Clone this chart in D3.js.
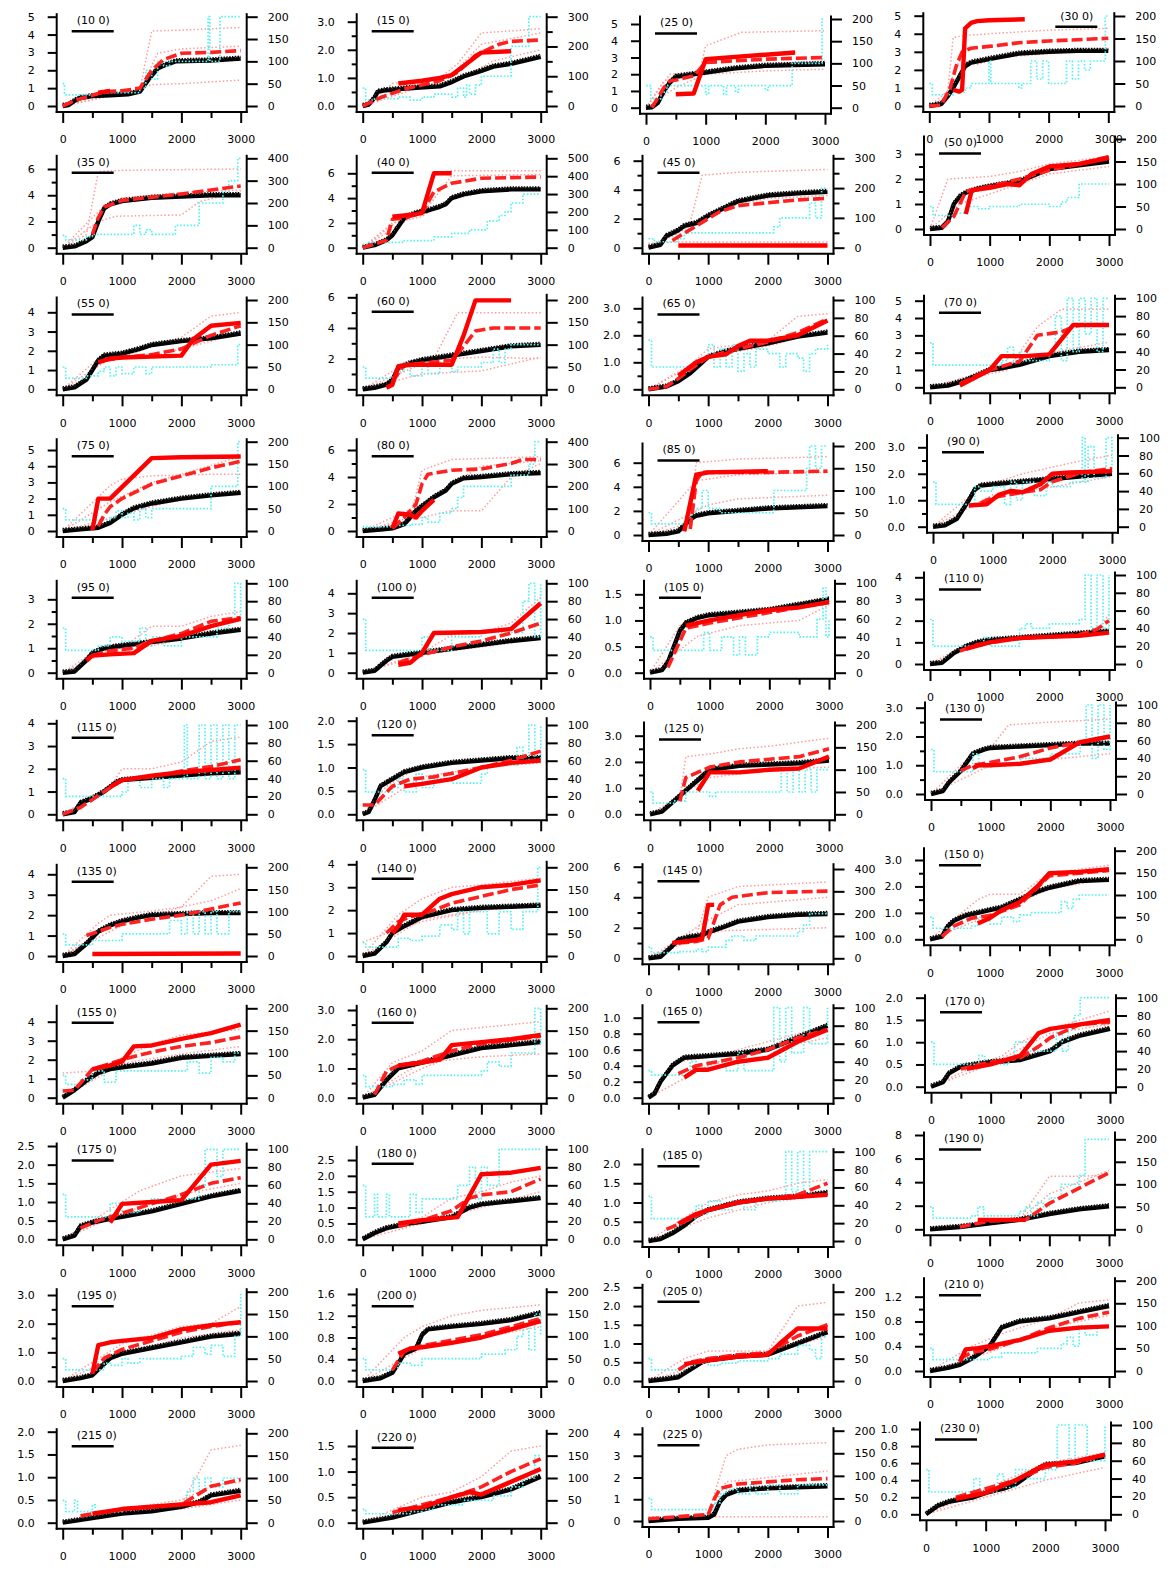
<!DOCTYPE html>
<html><head><meta charset="utf-8">
<script src="https://cdn.jsdelivr.net/npm/d3@7"></script>
<style>
body{margin:0;background:#fff}
svg{display:block}
text{font-family:"DejaVu Sans",sans-serif;font-size:11px;fill:#000}
</style>
</head><body>
<svg id="c" width="1175" height="1586"></svg>
<script>
// ---------------- DATA ----------------
const titles = ["(10 0)","(15 0)","(25 0)","(30 0)","(35 0)","(40 0)","(45 0)","(50 0)","(55 0)","(60 0)","(65 0)","(70 0)",
"(75 0)","(80 0)","(85 0)","(90 0)","(95 0)","(100 0)","(105 0)","(110 0)","(115 0)","(120 0)","(125 0)","(130 0)",
"(135 0)","(140 0)","(145 0)","(150 0)","(155 0)","(160 0)","(165 0)","(170 0)","(175 0)","(180 0)","(185 0)","(190 0)",
"(195 0)","(200 0)","(205 0)","(210 0)","(215 0)","(220 0)","(225 0)","(230 0)"];
const xTicks = [0,1000,2000,3000];
const xMinorTicks = [500,1500,2500];
const leftMax  = [5,3,5,5, 6,6,6,3, 4,6,3,5, 5,6,6,3, 3,4,1.5,4, 4,2,3,3, 4,4,6,3, 4,3,1,2, 2.5,2.5,2,8, 3,1.6,2.5,1.2, 2,1.5,4,1];
const leftStep = [1,1,1,1, 2,2,2,1, 1,2,1,1, 1,2,2,1, 1,1,0.5,1, 1,0.5,1,1, 1,1,2,1, 1,1,0.2,0.5, 0.5,0.5,0.5,2, 1,0.4,0.5,0.4, 0.5,0.5,1,0.2];
const leftDec  = [0,1,0,0, 0,0,0,0, 0,0,1,0, 0,0,0,1, 0,0,1,0, 0,1,1,1, 0,0,0,1, 0,1,1,1, 1,1,1,0, 1,1,1,1, 1,1,0,1];
const rightMax = [200,300,200,200, 400,500,300,200, 200,200,100,100, 200,400,200,100, 100,100,100,100, 100,100,200,100,
                  200,200,400,200, 200,200,100,100, 100,100,100,200, 200,200,200,200, 200,200,200,100];
const rightStep= [50,100,50,50, 100,100,100,50, 50,50,20,20, 50,100,50,20, 20,20,20,20, 20,20,50,20,
                  50,50,100,50, 50,50,20,20, 20,20,20,50, 50,50,50,50, 50,50,50,20];

// black (solid + dotted) series, flat [x,y,...]
const blackData = [
[0,0,100,0.05,200,0.3,300,0.45,500,0.55,800,0.6,1100,0.65,1300,0.8,1450,1.5,1600,2.1,1700,2.25,1900,2.5,2500,2.55,3000,2.65],
[0,0,100,0.05,200,0.3,250,0.5,350,0.55,600,0.6,900,0.65,1300,0.7,1500,0.85,1700,1.05,2000,1.25,2200,1.4,2500,1.5,3000,1.75],
[0,0,100,0.02,200,0.3,300,1.0,400,1.5,500,1.85,700,1.95,1000,2.1,1500,2.35,2000,2.5,2500,2.55,3000,2.6],
[0,0,200,0.1,300,0.5,400,1.0,500,1.6,600,2.2,700,2.4,1000,2.6,1500,2.9,2000,3.0,2500,3.05,3000,3.05],
[0,0,200,0.1,400,0.5,500,0.8,600,2.0,700,3.0,800,3.3,1000,3.55,1500,3.8,2000,3.9,2500,4.0,3000,4.0],
[0,0,200,0.2,400,0.6,500,1.0,700,2.4,900,2.8,1100,3.0,1300,3.3,1400,3.5,1500,4.0,1700,4.3,2000,4.55,2500,4.7,3000,4.7],
[0,0,200,0.2,300,0.8,400,1.0,500,1.2,600,1.5,700,1.6,800,1.7,1000,2.2,1200,2.6,1500,3.2,2000,3.6,2500,3.75,3000,3.85],
[0,0,200,0.05,300,0.3,400,1.0,500,1.3,600,1.45,800,1.6,1000,1.7,1500,1.9,2000,2.4,2500,2.55,3000,2.7],
[0,0,200,0.1,400,0.5,500,1.0,600,1.5,700,1.75,1000,1.85,1300,2.1,1500,2.3,2000,2.5,2500,2.65,3000,2.9],
[0,0,200,0.1,400,0.3,500,0.6,600,1.4,800,1.7,1000,1.9,1500,2.2,2000,2.5,2500,2.8,3000,2.9],
[0,0,300,0.1,500,0.3,700,0.6,900,1.0,1000,1.2,1300,1.4,1500,1.5,2000,1.7,2500,1.95,3000,2.1],
[0,0,300,0.1,600,0.4,800,0.7,1000,1.0,1200,1.1,1500,1.3,1800,1.6,2000,1.8,2500,2.05,3000,2.15],
[0,0,300,0.1,600,0.2,800,0.5,1000,1.0,1200,1.4,1500,1.7,2000,2.0,2500,2.2,3000,2.35],
[0,0,300,0.1,500,0.2,700,0.5,900,1.5,1200,2.5,1400,3.0,1500,3.5,1700,3.9,2000,4.0,2500,4.2,3000,4.3],
[0,0,300,0.1,500,0.3,600,0.8,700,1.3,800,1.6,1000,1.8,1500,2.0,2000,2.2,2500,2.3,3000,2.4],
[0,0,200,0.05,400,0.3,600,1.0,700,1.4,800,1.55,1000,1.6,1500,1.7,2000,1.8,2500,1.9,3000,2.0],
[0,0,200,0.05,400,0.5,500,0.8,700,1.0,1000,1.1,1500,1.25,2000,1.4,2500,1.6,3000,1.75],
[0,0,200,0.1,400,0.6,500,0.8,1000,1.0,1500,1.2,2000,1.4,2500,1.6,3000,1.75],
[0,0,200,0.05,300,0.2,400,0.5,500,0.8,600,0.95,800,1.05,1000,1.1,1500,1.15,2000,1.2,2500,1.3,3000,1.4],
[0,0,200,0.05,400,0.5,600,0.8,800,1.0,1000,1.1,1500,1.2,2000,1.3,2500,1.4,3000,1.5],
[0,0,200,0.1,300,0.5,400,0.6,500,0.7,700,1.0,900,1.4,1000,1.5,1500,1.6,2000,1.7,2500,1.8,3000,1.85],
[0,0,100,0.05,200,0.3,300,0.6,500,0.75,700,0.9,1000,1.0,1500,1.1,2000,1.15,2500,1.2,3000,1.2],
[0,0,200,0.1,400,0.5,600,0.9,800,1.3,1000,1.7,1500,1.85,2000,1.9,2500,1.95,3000,2.05],
[0,0,200,0.1,300,0.4,500,0.8,700,1.4,900,1.55,1000,1.6,1500,1.65,2000,1.7,2500,1.75,3000,1.75],
[0,0,200,0.1,400,0.6,600,1.2,800,1.5,1000,1.7,1300,1.9,1500,2.0,2000,2.05,2500,2.1,3000,2.1],
[0,0,200,0.1,400,0.6,500,1.0,700,1.3,1000,1.7,1500,2.0,2000,2.1,2500,2.15,3000,2.2],
[0,0,200,0.1,400,0.8,500,1.2,700,1.4,900,1.5,1000,1.7,1300,2.1,1500,2.4,2000,2.7,2500,2.85,3000,2.9],
[0,0,200,0.1,300,0.5,400,0.7,600,0.9,800,1.0,1000,1.1,1200,1.2,1500,1.5,1800,1.8,2000,1.95,2500,2.2,3000,2.25],
[0,0,200,0.4,400,0.9,600,1.3,800,1.5,1000,1.6,1500,1.8,2000,2.1,2500,2.2,3000,2.3],
[0,0,200,0.1,400,0.6,600,1.0,1000,1.2,1500,1.45,2000,1.7,2500,1.8,3000,1.9],
[0,0,100,0.05,200,0.2,400,0.4,600,0.5,1000,0.52,1500,0.55,2000,0.6,2500,0.75,3000,0.9],
[0,0,200,0.1,300,0.3,500,0.45,1000,0.55,1500,0.6,2000,0.8,2200,1.0,2500,1.15,3000,1.3],
[0,0,200,0.1,300,0.35,500,0.45,800,0.55,1000,0.6,1500,0.75,2000,0.95,2500,1.15,3000,1.3],
[0,0,200,0.2,400,0.35,800,0.5,1000,0.55,1500,0.7,1800,1.0,2000,1.1,2500,1.2,3000,1.3],
[0,0,200,0.05,400,0.2,600,0.4,800,0.65,1000,0.8,1500,1.0,2000,1.1,2500,1.15,3000,1.25],
[0,0,500,0.2,1000,0.5,1500,0.8,2000,1.3,2500,1.7,3000,1.95],
[0,0,300,0.1,500,0.2,700,0.6,800,0.8,1000,0.95,1500,1.15,2000,1.35,2500,1.55,3000,1.65],
[0,0,300,0.05,500,0.15,700,0.5,900,0.6,1000,0.85,1100,0.95,1500,1.0,2000,1.05,2500,1.12,3000,1.25],
[0,0,300,0.05,500,0.1,700,0.3,900,0.5,1000,0.55,1500,0.65,2000,0.7,2500,1.0,3000,1.3],
[0,0,300,0.05,500,0.1,700,0.2,1000,0.4,1200,0.7,1500,0.8,2000,0.85,2500,0.95,3000,1.05],
[0,0,500,0.1,1000,0.2,1500,0.25,2000,0.35,2300,0.45,2500,0.6,3000,0.7],
[0,0,500,0.1,1000,0.25,1500,0.4,2000,0.5,2500,0.65,3000,0.9],
[0,0,500,0.1,1000,0.15,1100,0.3,1200,0.9,1300,1.2,1500,1.4,2000,1.5,2500,1.55,3000,1.6],
[0,0,200,0.1,400,0.15,800,0.2,1000,0.25,1300,0.3,1500,0.35,1800,0.5,2000,0.58,2500,0.6,3000,0.68]
];

// red solid series
const redSolidData = [
[600,0.75,800,0.85],
[600,0.8,1000,0.9,1300,1.0,1500,1.1,2000,1.9,2500,1.95],
[500,0.8,800,0.85,1000,2.9,2500,3.3],
[400,0.9,500,0.8,550,0.9,600,4.3,700,4.6,800,4.7,1000,4.75,1600,4.8],
[],
[500,2.5,900,2.7,1000,2.8,1200,6.0,1500,6.0],
[500,0.15,3000,0.15],
[600,0.6,700,1.55,1000,1.65,1300,1.8,1500,1.75,1700,2.2,2000,2.5,2500,2.6,3000,2.85],
[600,1.4,800,1.6,1000,1.65,1500,1.7,2000,1.75,2200,2.6,2500,3.3,3000,3.45],
[400,0.1,500,0.3,600,1.5,800,1.6,1000,1.6,1500,1.6,1700,3.5,1900,5.8,2500,5.8],
[500,0.5,800,1.0,1000,1.2,1300,1.3,1500,1.6,1700,1.8,2000,1.8,2500,2.0,3000,2.55],
[500,0.1,1000,1.0,1200,1.8,1600,1.8,2000,1.9,2400,3.6,3000,3.6],
[500,0.05,600,2.0,800,2.0,1500,4.5,2000,4.55,3000,4.6],
[500,0.2,600,1.3,800,1.2,900,1.0,1000,1.5,1200,2.3],
[600,0.3,800,5.0,1000,5.2,2000,5.3],
[600,0.8,900,0.85,1100,1.2,1300,1.35,1500,1.3,1800,1.6,2000,2.0,2300,2.05,3000,2.1],
[400,0.5,500,0.7,800,0.75,1200,0.8,1500,1.3,2000,1.5,2500,1.9,3000,2.2],
[600,0.4,800,0.5,1000,1.0,1200,2.0,2000,2.05,2500,2.2,3000,3.5],
[600,0.9,1000,1.0,1500,1.1,2000,1.2,2500,1.25,3000,1.35],
[600,0.7,1000,1.0,1500,1.2,2000,1.25,2500,1.3,3000,1.45],
[800,1.2,1000,1.5,1500,1.7,2000,1.85,2500,1.95,3000,2.05],
[700,0.6,1000,0.65,1500,0.75,1800,0.9,2000,1.0,2500,1.1,3000,1.15],
[800,0.9,1000,1.6,1500,1.6,2000,1.7,2500,1.75,3000,2.2],
[700,0.9,800,1.0,1000,1.0,1500,1.05,2000,1.2,2500,1.8,3000,2.0],
[500,0.1,3000,0.12],
[500,1.0,600,1.3,700,1.8,1000,1.8,1300,2.5,1500,2.7,2000,3.0,2500,3.1,3000,3.3],
[400,1.0,800,1.2,900,1.3,1000,3.5,1100,3.5],
[800,0.6,1000,0.8,1200,1.1,1500,1.4,1800,2.0,2000,2.5,2500,2.55,3000,2.65],
[500,1.5,800,1.7,1000,1.9,1200,2.7,1500,2.75,2000,3.1,2500,3.4,3000,3.85],
[600,1.1,1000,1.2,1300,1.3,1500,1.8,2000,1.9,2500,2.0,3000,2.15],
[600,0.25,800,0.35,1000,0.35,1500,0.45,2000,0.5,2500,0.7,3000,0.85],
[600,0.4,1000,0.5,1500,0.7,1800,1.2,2000,1.3,2500,1.4,3000,1.5],
[800,0.45,1000,0.95,1500,1.0,2000,1.05,2500,2.0,3000,2.1],
[600,0.5,1000,0.6,1600,0.7,2000,2.05,2500,2.1,3000,2.25],
[500,0.45,800,0.7,1000,0.8,1500,1.0,2000,1.1,2500,1.15,3000,1.2],
[800,0.8,1200,0.8,1600,0.8],
[500,0.25,600,1.25,800,1.35,1000,1.4,1500,1.5,2000,1.8,2500,1.95,3000,2.05],
[600,0.5,800,0.6,1000,0.62,1500,0.7,2000,0.8,2500,0.95,3000,1.1],
[600,0.45,1000,0.55,1500,0.65,2000,0.7,2200,1.0,2500,1.4,3000,1.4],
[500,0.15,600,0.35,800,0.37,1000,0.4,1500,0.5,2000,0.65,2500,0.7,3000,0.72],
[500,0.2,1000,0.3,1500,0.35,2000,0.4,2500,0.45,3000,0.6],
[600,0.25,1000,0.3,1500,0.5,1800,0.6,2000,0.55,2500,0.8,3000,1.05],
[],
[500,0.18,1000,0.25,1500,0.4,2000,0.58,2500,0.62,3000,0.7]
];

// red dashed series
const redDashData = [
[0,0,200,0.3,500,0.6,700,0.8,1000,0.85,1300,1.0,1500,2.0,1700,2.6,2000,2.95,2500,3.0,3000,3.1],
[0,0,300,0.3,700,0.6,1300,0.9,1600,1.2,1900,1.8,2300,2.2,2500,2.3,3000,2.35],
[100,0,300,1.2,400,1.6,500,1.65,800,1.9,1000,2.7,2000,2.9,3000,3.0],
[0,0,200,0.05,350,1.0,450,2.2,550,3.0,700,3.2,1000,3.3,1500,3.5,2000,3.6,3000,3.75],
[500,1.0,600,2.3,700,3.1,1000,3.6,2000,4.1,3000,4.7],
[0,0,400,0.6,500,2.3,700,2.4,1000,2.8,1200,4.5,1500,5.2,2000,5.6,3000,5.7],
[400,0.5,600,1.0,800,1.5,1000,2.0,1200,2.5,1500,2.9,2000,3.1,2500,3.3,3000,3.4],
[200,0.05,400,0.5,600,1.5,1000,1.7,1500,2.0,2000,2.35,2500,2.6,3000,2.9],
[700,1.5,1000,1.65,1500,1.8,2000,2.1,2500,2.8,3000,3.3],
[500,0.5,700,1.6,1000,1.7,1500,1.9,1700,2.8,1900,3.8,2200,4.0,3000,4.0],
[0,0,300,0.1,500,0.4,800,0.9,1000,1.2,1500,1.5,2000,1.75,2500,2.1,3000,2.6],
[500,0.2,800,0.7,1000,1.0,1200,1.2,1500,1.5,1800,3.0,2000,3.1,2200,3.2,2500,3.6,3000,3.6],
[600,0.3,700,1.0,800,1.5,1000,2.0,1500,2.9,2000,3.4,2500,3.9,3000,4.3],
[500,0.2,700,1.0,900,2.0,1000,3.5,1100,4.2,1500,4.5,2000,4.6,2500,5.0,2700,5.3,3000,5.3],
[700,0.5,800,4.5,900,5.2,1500,5.2,2000,5.2,3000,5.3],
[800,0.9,1000,1.1,1500,1.3,1800,1.4,2000,1.7,2500,2.05,3000,2.2],
[500,0.7,800,0.9,1200,1.0,1500,1.3,2000,1.6,2500,2.1,3000,2.25],
[600,0.5,1000,0.9,1500,1.3,2000,1.6,2500,2.0,3000,2.5],
[300,0.1,600,0.85,1000,0.95,2000,1.15,3000,1.35],
[500,0.6,800,0.9,1500,1.2,2000,1.25,2500,1.35,2800,1.6,3000,2.0],
[0,0,300,0.3,700,1.0,1000,1.5,1500,1.65,2000,1.9,2500,2.1,3000,2.4],
[0,0.2,200,0.2,500,0.6,800,0.75,1200,0.8,1600,0.9,2000,1.0,2500,1.15,3000,1.35],
[500,0.5,600,1.4,1000,1.8,1500,2.0,2000,2.1,2500,2.2,3000,2.5],
[500,0.8,700,1.0,1000,1.1,1500,1.3,2000,1.6,2500,1.8,3000,2.0],
[400,1.0,600,1.2,800,1.4,1000,1.55,1500,1.8,2000,2.0,2500,2.3,3000,2.6],
[400,1.0,600,1.5,800,1.7,1200,2.0,1500,2.3,2000,2.6,2500,2.9,3000,3.1],
[500,1.0,800,1.1,1000,1.3,1200,3.5,1400,4.0,2000,4.3,3000,4.4],
[200,0.1,400,0.5,700,0.8,1000,0.9,1500,1.3,2000,2.4,2500,2.5,3000,2.6],
[0,0.35,200,0.4,500,1.5,1000,2.0,1500,2.4,2000,2.7,2500,2.9,3000,3.2],
[200,0.1,400,0.9,600,1.1,1000,1.25,1500,1.6,2000,1.85,3000,2.1],
[500,0.3,800,0.4,1500,0.5,2000,0.6,2500,0.75,3000,0.85],
[500,0.4,1000,0.55,1500,0.65,1800,0.9,2000,1.1,2500,1.4,3000,1.45],
[300,0.3,600,0.5,1000,0.7,1500,0.95,2000,1.2,2500,1.5,3000,1.65],
[600,0.4,1000,0.6,1500,0.9,1800,1.3,2000,1.4,2500,1.5,3000,1.9],
[300,0.3,600,0.5,1000,0.8,1500,1.0,2000,1.1,2500,1.2,3000,1.5],
[500,0.2,1000,0.7,1600,0.8,2000,2.2,2500,3.5,3000,4.8],
[500,0.3,700,0.8,1000,1.1,1500,1.4,2000,1.7,2500,1.9,3000,2.05],
[500,0.2,700,0.55,1000,0.65,1500,0.75,2000,0.85,2500,1.0,3000,1.15],
[500,0.3,700,0.5,1000,0.6,1500,0.7,2000,0.75,2500,1.2,3000,1.5],
[500,0.2,700,0.3,1000,0.35,1500,0.5,2000,0.7,2500,0.85,3000,0.95],
[300,0.15,1000,0.3,2000,0.4,2500,0.8,3000,0.95],
[500,0.2,1000,0.35,1500,0.5,2000,0.7,2500,1.0,3000,1.25],
[0,0.1,500,0.2,1000,0.3,1100,1.0,1200,1.5,1500,1.7,2000,1.8,2500,1.9,3000,1.95],
[500,0.2,1000,0.3,1500,0.4,2000,0.55,2500,0.6,3000,0.7]
];

// light red dotted series (several per panel)
const pinkData = [
[[0,0,500,0.6,1300,0.9,1500,4.2,2000,4.25,3000,4.4],[0,0,1300,0.9,1600,2.95,2000,3.2,3000,3.35],[0,0,1300,0.95,1500,1.2,2000,1.25,3000,1.45]],
[[0,0,500,0.8,1300,1.0,1600,1.5,2000,2.6,3000,2.75],[0,0,700,0.7,1500,1.1,2000,2.2,3000,2.6],[0,0,800,0.55,1500,0.8,2200,1.6,3000,2.0]],
[[0,0,300,1.6,500,1.8,900,2.2,1000,3.7,1600,4.5,3000,4.6],[0,0,400,2.0,1000,2.2,2000,2.6,3000,2.8],[0,0,500,1.2,1000,2.0,2000,2.2,3000,2.3]],
[[0,0,300,0.5,400,3.8,600,3.9,1000,4.0,2000,4.2,3000,4.3],[0,0,300,0.8,500,2.5,800,2.3,1200,2.7,2000,2.9,3000,3.2]],
[[0,0,400,1.0,600,5.8,1000,5.9,3000,6.0],[0,0,600,2.0,900,2.4,2000,2.5,2300,3.5,3000,4.3],[0,0,700,3.2,1000,3.8,2000,4.2,3000,4.4]],
[[0,0,1000,3.0,1200,6.0,1500,6.2,3000,6.2],[0,0,500,2.0,1000,2.5,1300,3.5,1600,4.0,2000,4.5,3000,4.8],[0,0,600,2.2,1100,3.3,1500,5.8,3000,5.9]],
[[0,0,700,1.8,900,5.0,1500,5.2,3000,5.4],[0,0,500,1.0,1000,2.3,1500,3.0,2000,3.4,3000,3.6],[0,0.3,500,0.4,3000,0.4]],
[[0,0,300,2.0,1000,2.1,1500,2.3,2000,2.6,3000,2.9],[0,0,500,1.0,1000,1.4,2000,2.2,3000,2.5]],
[[0,0,600,1.6,1000,1.7,2000,2.7,2500,3.8,3000,4.0],[0,0,800,1.6,1500,1.7,2500,2.5,3000,3.0]],
[[0,0,1200,2.0,1600,5.0,2000,5.0,3000,5.0],[0,0,600,1.4,1000,1.9,1500,2.0,2000,2.1,3000,2.0],[0,0,1000,1.0,2000,1.2,3000,2.1]],
[[0,0,700,0.9,1000,1.5,2000,1.8,2500,2.7,3000,2.8],[0,0,1000,1.2,2000,1.6,3000,2.2]],
[[0,0,1300,1.0,1800,3.5,2200,4.5,3000,4.5],[0,0,1500,1.5,2000,2.0,3000,2.6]],
[[0,0,800,2.8,1000,3.2,1500,3.4,2500,3.5,3000,3.5],[0,0,800,1.8,1500,3.0,2000,3.5,3000,4.6],[0,0,1200,1.2,2000,2.0,3000,2.4]],
[[0,0,800,1.0,1000,4.5,1500,5.3,3000,5.5],[0,0,1000,2.0,1500,3.5,2000,4.8,3000,5.2],[0,0,1000,1.0,1500,1.5,2000,1.5,2500,4.0,3000,5.0]],
[[0,0,700,1.0,800,6.0,1500,6.3,3000,6.5],[0,0,800,2.0,1000,2.5,1500,3.0,3000,3.3],[0,0,800,4.5,1500,5.0,3000,5.2]],
[[0,0,800,1.5,1500,2.0,2500,2.5,3000,2.7],[0,0,1000,1.2,2000,1.5,3000,1.9]],
[[0,0,500,0.8,1000,1.0,1500,1.9,2000,1.9,2500,2.3,3000,2.5],[0,0,700,0.8,1500,1.1,2500,1.6,3000,1.8]],
[[0,0,1000,1.0,1500,1.9,2000,2.0,2500,2.5,3000,3.8],[0,0,1000,0.9,1500,1.1,2500,1.5,3000,1.8]],
[[0,0,500,0.9,1000,1.1,2000,1.2,3000,1.4],[0,0,800,0.7,1500,0.9,2500,1.0,3000,1.3]],
[[0,0,600,0.9,1000,1.0,2000,1.3,2800,1.5,3000,2.3],[0,0,1000,1.1,3000,1.4]],
[[0,0,800,1.2,1000,2.0,1500,2.0,2000,2.3,2500,3.2,3000,3.4],[0,0,1000,1.5,2000,1.7,3000,1.9]],
[[0,0,400,0.6,800,0.9,1000,1.0,1500,1.1,2000,1.15,3000,1.3],[0,0,1000,0.8,2000,1.0,3000,1.1]],
[[0,0,500,0.6,600,2.2,1000,2.3,1500,2.5,2000,2.6,3000,2.9],[0,0,1000,1.4,2000,1.7,3000,1.8]],
[[0,0,700,1.4,1000,1.6,1300,2.4,2000,2.5,3000,2.6],[0,0,1000,1.0,2000,1.2,3000,1.4]],
[[0,0,600,1.6,800,2.0,1500,2.2,2000,2.4,2500,3.9,3000,4.0],[0,0,1000,1.5,2000,2.4,2500,2.7,3000,3.3],[0,0,1000,1.8,2000,2.0,3000,2.2]],
[[0,0,600,1.8,1000,2.5,1500,3.0,2000,3.1,3000,3.4],[0,0,1000,1.6,2000,2.0,3000,2.2],[0,0.6,400,1.0,1000,1.5,2000,2.0,3000,2.3]],
[[0,0,800,1.5,1000,4.0,1500,4.7,3000,5.0],[0,0,1000,2.5,1500,3.5,3000,4.0],[0,0,600,1.0,1200,1.8,3000,2.0]],
[[0,0,800,1.5,1000,1.7,1500,1.7,2000,2.5,3000,2.8],[0,0,1000,0.9,2000,1.9,3000,2.3]],
[[0,0,500,1.3,1000,2.1,1500,2.8,2000,3.3,3000,3.6],[0,1.3,500,1.4,1000,1.5,2000,2.0,3000,2.4],[0,0,1000,1.8,2000,2.3,3000,2.7]],
[[0,0,500,1.2,1000,1.6,1500,2.3,2000,2.4,3000,2.6],[0,0,1000,1.2,2000,1.4,3000,1.5],[0,0,1000,1.0,2000,1.8,3000,2.0]],
[[0,0,500,0.45,1000,0.5,2000,0.7,3000,0.9],[0,0,1000,0.4,2000,0.6,3000,0.75]],
[[0,0,800,0.5,1200,0.7,1500,1.0,2000,1.3,2500,1.5,3000,1.7],[0,0,1000,0.5,2000,1.2,3000,1.4]],
[[0,0,800,0.8,1300,1.3,2000,1.7,3000,1.9],[0,0,1000,0.7,2000,1.2,3000,1.5]],
[[0,0,1000,0.7,1500,1.3,2000,1.5,2500,1.8,3000,2.0],[0,0,1000,0.5,2000,1.0,3000,1.5]],
[[0,0,600,0.6,1000,1.0,1500,1.2,2000,1.3,2500,1.5,3000,1.6],[0,0,1000,0.6,2000,1.0,3000,1.2]],
[[0,0,1500,0.8,2000,4.5,2500,4.5,3000,4.6],[0,0,1500,0.8,2000,3.0,2500,4.0,3000,5.0],[0,0,1500,0.7,2000,1.5,3000,2.0]],
[[0,0,1000,1.3,1500,1.6,2000,1.9,2500,2.0,3000,2.6],[0,0,1000,0.9,2000,1.5,3000,1.8]],
[[0,0,700,0.8,1000,1.0,1500,1.2,2000,1.3,3000,1.4],[0,0,1000,0.6,2000,0.8,3000,1.0]],
[[0,0,600,0.6,1000,0.8,2000,0.8,2500,2.0,3000,2.1],[0,0,1000,0.5,2000,0.7,3000,1.2]],
[[0,0,700,0.4,1200,0.6,2000,0.85,2500,1.1,3000,1.15],[0,0,1000,0.3,2000,0.7,3000,0.9]],
[[0,0,2000,0.4,2500,1.6,3000,1.7],[0,0,1000,0.3,2000,0.5,2500,0.8,3000,0.9],[0,0,1000,0.2,2000,0.3,3000,0.5]],
[[0,0,1000,0.5,1500,0.6,2000,0.9,2500,1.4,3000,1.5],[0,0,1000,0.3,2000,0.6,3000,0.95]],
[[0,0,1000,0.3,1300,3.0,1500,3.3,2000,3.5,3000,3.6],[0,0,1000,0.2,1300,1.8,2000,2.0,3000,2.3],[0,0.2,1000,0.2,3000,0.2]],
[[0,0,1000,0.3,2000,0.6,3000,0.72],[0,0,1000,0.2,2000,0.4,3000,0.55]]
];

// cyan dotted series (right axis), step levels [x, value from x, ...]
const cyanData = [
[0,50,30,25,600,30,1300,40,1400,80,1500,60,1600,100,1700,90,1800,100,2450,200,2480,100,2650,200,3000,200],
[0,60,50,20,200,25,600,30,800,20,1000,30,1200,40,1500,30,1600,60,1700,30,1750,70,1800,40,1900,70,2000,100,2500,200,2800,300,3000,300],
[0,50,80,20,250,35,350,50,1000,30,1050,50,1300,30,1350,50,1500,35,1550,50,2000,40,2050,50,2450,100,2950,200,3000,200],
[0,50,50,25,400,30,600,40,700,50,1000,100,1030,50,1500,40,1550,50,1700,100,1800,60,1900,100,2000,50,2300,100,2400,60,2500,100,2600,80,2700,100,2950,200,3000,200],
[0,55,50,35,400,50,500,60,1200,100,1300,60,1400,80,1500,60,1900,100,2300,200,2700,250,2800,300,2950,400,3000,400],
[0,20,100,30,700,40,1200,60,1500,80,1800,100,2100,150,2300,180,2400,200,2500,250,2700,300,3000,300],
[0,30,100,20,500,30,600,50,2100,70,2200,100,2700,150,2800,100,2900,200,3000,200],
[0,50,50,30,400,35,600,50,800,45,1000,50,1500,55,2000,50,2200,60,2300,70,2500,100,3000,100],
[0,50,50,25,400,30,600,40,700,50,800,30,900,50,1000,35,1200,50,1400,35,1500,50,2500,55,2950,100,3000,100],
[0,50,50,25,500,30,600,40,700,60,800,30,1000,60,1100,35,1300,60,1500,40,1600,50,2000,60,2200,90,2300,60,2400,90,2500,100,3000,100],
[0,55,50,25,800,30,900,35,1000,50,1100,25,1200,45,1300,25,1400,50,1500,20,1600,40,1700,25,1800,45,2000,40,2200,25,2300,40,2500,35,2600,20,2700,40,2800,45,3000,50],
[0,50,50,25,1200,30,1300,45,1400,30,1500,40,1600,30,2000,40,2100,80,2200,30,2300,100,2400,40,2500,100,2600,60,2700,100,2800,40,2900,100,3000,100],
[0,50,50,25,800,30,900,45,1000,30,1100,40,1200,25,1300,50,1400,30,1500,50,2500,100,2950,200,3000,200],
[0,20,500,25,800,30,1000,60,1100,40,1300,80,1500,100,1600,150,1700,200,2500,250,2800,300,2900,400,3000,400],
[0,50,50,25,600,30,700,50,800,60,900,100,1000,60,1200,50,2100,100,2650,150,2700,200,2800,150,2900,200,3000,200],
[0,50,50,25,700,45,800,40,1000,45,1200,25,1300,50,1400,30,1500,50,1700,35,1900,50,2000,45,2300,50,2500,100,2550,50,2600,90,2700,55,2900,100,3000,60],
[0,50,50,25,600,30,800,40,1000,35,1300,50,1400,30,1500,40,1700,30,2000,40,2600,50,2800,60,2900,100,3000,60],
[0,60,50,25,1000,40,1100,25,1500,40,2000,45,2700,80,2800,100,2900,40,3000,100],
[0,40,50,25,900,45,1000,25,1200,40,1400,20,1500,40,1600,20,1800,40,2000,45,2500,40,2800,60,2900,95,2950,40,3000,60],
[0,50,50,20,900,30,1000,20,1500,40,1600,45,1700,40,2000,45,2500,50,2600,100,2700,40,2800,100,2900,40,3000,100],
[0,40,50,20,1000,25,1100,40,1300,30,1500,40,1700,30,1800,40,2050,100,2100,40,2300,100,2400,40,2500,100,2600,40,2700,100,2800,40,2900,100,3000,100],
[0,50,50,25,500,30,600,40,700,25,900,45,1000,30,1200,40,1500,35,2000,45,2100,55,2600,75,2700,60,2800,100,2900,60,3000,100],
[0,50,50,25,400,30,600,50,1000,40,1100,50,2200,100,2300,50,2400,100,2500,50,2600,100,2700,50,2800,100,3000,100],
[0,50,50,25,700,45,800,30,1000,35,1500,40,2000,45,2500,60,2600,100,2700,40,2800,100,2900,50,3000,100],
[0,50,50,25,500,35,1000,50,1800,80,2000,50,2100,100,2200,50,2300,100,2400,50,2500,100,2600,50,2800,100,3000,100],
[0,30,50,20,600,40,800,35,1000,45,1300,70,1500,60,1600,100,1700,50,1800,100,2100,50,2300,100,2500,60,2700,100,2950,200,3000,200],
[0,50,50,25,500,30,800,40,900,30,1000,50,1300,80,1400,100,1600,80,1800,100,2500,120,2600,150,2700,200,3000,200],
[0,50,50,25,700,30,800,50,1000,35,1200,50,1400,40,1500,55,1700,60,2200,85,2300,70,2400,90,2500,100,3000,100],
[0,50,50,30,300,40,500,60,700,35,900,60,2100,80,2300,55,2500,90,2700,80,2900,100,3000,100],
[0,50,50,25,500,30,700,40,900,30,1000,50,2000,60,2100,80,2300,70,2500,100,2900,200,3000,120],
[0,30,50,25,700,40,800,30,1000,40,1300,30,1500,50,1600,30,2100,100,2200,40,2300,100,2400,50,2600,100,2700,60,3000,100],
[0,50,50,25,800,35,900,25,1300,30,1400,50,1600,40,2100,60,2200,40,2300,65,2400,80,2500,100,3000,100],
[0,50,50,25,800,40,1000,30,1300,40,1500,45,2300,60,2400,100,2600,70,2700,100,3000,100],
[0,60,50,25,200,50,250,25,400,50,450,25,800,50,900,30,1000,45,1600,60,1800,80,1900,45,2000,80,2100,60,2300,100,3000,100],
[0,50,50,25,800,40,900,30,1000,45,1200,35,1400,45,1600,35,1800,45,2200,50,2300,100,2400,55,2500,100,2600,50,2700,100,3000,100],
[0,50,50,25,700,30,800,50,900,30,1500,40,1600,50,1700,30,1800,60,1900,50,2000,70,2200,100,2500,120,2600,200,3000,200],
[0,50,50,25,700,40,800,35,1000,50,1100,40,1300,50,2000,55,2200,75,2400,60,2500,80,2700,55,2900,100,3000,200],
[0,50,50,25,500,30,600,40,800,35,1000,50,2000,60,2400,70,2600,100,2700,120,2800,70,2900,150,3000,100],
[0,50,50,25,600,35,800,40,1000,35,1200,40,1500,45,2000,50,2200,60,2500,80,2700,70,2800,50,2900,100,3000,100],
[0,50,50,25,1000,30,1200,40,1800,50,2200,60,2300,75,2400,55,2500,100,2600,80,2800,100,3000,100],
[0,50,50,25,200,50,250,25,500,40,550,25,1000,35,1500,40,2100,70,2200,100,2300,70,2400,100,2500,80,2700,100,3000,100],
[0,30,50,20,800,25,1000,30,1200,40,1700,50,2200,60,2500,80,2700,100,2900,150,3000,150],
[0,50,50,25,1100,40,1200,60,1300,70,1500,60,1700,80,1800,60,2000,80,2200,60,2500,80,3000,80],
[0,50,50,25,800,40,900,25,1200,45,1300,30,1500,50,1700,40,2000,50,2200,100,2400,60,2500,100,2700,60,3000,100]
];

// ---------------- LAYOUT (pixel frames per panel) ----------------
// [x of 0, x of 3000, y of left 0, y of left top tick, y of right top tick]
const frames = [
[62.7,240.7,106,16.7,16.7],[362.7,540.7,106,21.7,16.7],[646,825,107.7,24,19],[929.3,1108.3,106,15.7,16],
[62.7,240.7,247.7,169,158.3],[362.7,540.7,247.7,173.3,158.3],[648.5,827.5,247.7,160.7,158.3],[930,1109,229,154,139],
[62.7,240.7,389.3,312.3,300],[362.7,540.7,389.3,297.3,300],[648.5,827.5,389.3,308.3,300],[930,1109,387.3,300.7,298.3],
[62.7,240.7,531,450,441.7],[362.7,540.7,531,450,441.7],[648.5,827.5,535,462.7,446],[933,1112,526.7,447.3,437.7],
[62.7,240.7,672.7,599.3,583.3],[362.7,540.7,672.7,593.3,583.3],[650,829,672.7,594.3,583.3],[930,1109,664,577.3,575],
[62.7,240.7,814.3,723.3,725],[362.7,540.7,814.3,720.7,725],[650,829,814.3,735.7,725],[931,1110,794,707.7,705],
[62.7,240.7,956,874.3,867.3],[362.7,540.7,956,864.3,867.3],[648.5,827.5,958.3,866.7,869],[930,1109,939.3,860,850.7],
[62.7,240.7,1097.7,1021.7,1008.3],[362.7,540.7,1097.7,1010,1008.3],[648.5,827.5,1097.7,1017.7,1007.7],[931,1110,1086.7,997.7,997.7],
[62.7,240.7,1239.3,1146,1149.3],[362.7,540.7,1239.3,1160,1149.3],[648.5,827.5,1241,1164,1151.7],[930,1109,1229.3,1135,1139.3],
[62.7,240.7,1381,1295,1291.7],[362.7,540.7,1381,1294,1291.7],[648.5,827.5,1381,1287.3,1291.7],[930,1109,1371,1296.7,1280.7],
[62.7,240.7,1522.7,1431.7,1433.3],[362.7,540.7,1522.7,1446,1433.3],[648.5,827.5,1521,1434,1430.7],[926,1105,1514.3,1429,1425]
];
const titleAtRight = [3];

// ---------------- DRAW ----------------
const svg = d3.select("#c");
const pairs = f => { const o=[]; for(let k=0;k<f.length;k+=2) o.push([f[k],f[k+1]]); return o; };
const ticksFor = (max,step) => d3.range(0, max+step/2, step).map(v=>+v.toFixed(4));

titles.forEach((t,i)=>{
  const [cx0,cx1,yb,ytL,ytR] = frames[i];
  const x = d3.scaleLinear().domain([0,3000]).range([cx0,cx1]);
  const yL = d3.scaleLinear().domain([0,leftMax[i]]).range([yb,ytL]);
  const yR = d3.scaleLinear().domain([0,rightMax[i]]).range([yb,ytR]);
  const top = Math.min(ytL,ytR)-3.5, xa = yb+6, lx = cx0-6, rx = cx1+6;
  const g = svg.append("g");

  const lineL = d3.line().x(d=>x(d[0])).y(d=>yL(d[1]));
  const lineR = d3.line().x(d=>x(d[0])).y(d=>yR(d[1])).curve(d3.curveStepAfter);
  const path = (d,gen) => g.append("path").attr("d",gen(d)).attr("fill","none")
      .attr("stroke-linejoin","round");

  pinkData[i].forEach(s=>path(pairs(s),lineL).attr("stroke","#ff9c9c").attr("stroke-width",1.5).attr("stroke-dasharray","1.5,2.2"));
  path(pairs(blackData[i]),lineL).attr("stroke","#000").attr("stroke-width",4.4);
  path(pairs(blackData[i]),lineL).attr("stroke","#000").attr("stroke-width",2.4).attr("stroke-dasharray","1.4,1.4")
      .attr("transform","translate(0,-2)");
  path(pairs(blackData[i]),lineL).attr("stroke","#fff").attr("stroke-width",0.8).attr("stroke-dasharray","1,3").attr("opacity",0.5)
      .attr("transform","translate(0,-1.5)");
  path(pairs(cyanData[i]),lineR).attr("stroke","#55f2f2").attr("stroke-width",1.7).attr("stroke-dasharray","1.6,1.8");
  if(redDashData[i].length) path(pairs(redDashData[i]),lineL).attr("stroke","#ff2020").attr("stroke-width",3.6).attr("stroke-dasharray","11,4");
  if(redSolidData[i].length) path(pairs(redSolidData[i]),lineL).attr("stroke","#ff0000").attr("stroke-width",4.4);

  // axis frame lines
  const frameLine = (x1,y1,x2,y2)=>g.append("line").attr("x1",x1).attr("y1",y1).attr("x2",x2).attr("y2",y2)
      .attr("stroke","#000").attr("stroke-width",2);
  frameLine(lx,top,lx,xa+1); frameLine(rx,top,rx,xa+1); frameLine(lx-1,xa,rx+1,xa);

  const fmtL = leftDec[i] ? d3.format(".1f") : d3.format("d");
  const majL = ticksFor(leftMax[i],leftStep[i]);
  const majR = ticksFor(rightMax[i],rightStep[i]);
  const minor = (maj,step)=> maj.slice(0,-1).map(v=>+(v+step/2).toFixed(4));
  const needMinorL = (majL.length-1)<=3 || leftStep[i]===0.4;
  const needMinorR = (majR.length-1)<=3;

  const style = sel => { sel.select(".domain").remove(); sel.selectAll(".tick line").attr("stroke-width",2); };

  g.append("g").attr("transform",`translate(${lx},0)`)
    .call(d3.axisLeft(yL).tickValues(majL).tickSize(9).tickPadding(13).tickFormat(fmtL)).call(style);
  if(needMinorL) g.append("g").attr("transform",`translate(${lx},0)`)
    .call(d3.axisLeft(yL).tickValues(minor(majL,leftStep[i])).tickSize(5).tickFormat("")).call(style);

  g.append("g").attr("transform",`translate(${rx},0)`)
    .call(d3.axisRight(yR).tickValues(majR).tickSize(11).tickPadding(10).tickFormat(d3.format("d"))).call(style);
  if(needMinorR) g.append("g").attr("transform",`translate(${rx},0)`)
    .call(d3.axisRight(yR).tickValues(minor(majR,rightStep[i])).tickSize(6).tickFormat("")).call(style);

  g.append("g").attr("transform",`translate(0,${xa})`)
    .call(d3.axisBottom(x).tickValues(xTicks).tickSize(11).tickPadding(12.5).tickFormat(d3.format("d"))).call(style);
  g.append("g").attr("transform",`translate(0,${xa})`)
    .call(d3.axisBottom(x).tickValues(xMinorTicks).tickSize(6).tickFormat("")).call(style);

  // title + bar
  if(titleAtRight.includes(i)){
    g.append("text").attr("x",cx1-48).attr("y",top+4).attr("dy","0.35em").text(t);
    frameLine(cx1-53,top+14.5,cx1-11,top+14.5).attr("stroke-width",2.5);
  } else {
    g.append("text").attr("x",cx0+14).attr("y",top+7).attr("dy","0.35em").text(t);
    frameLine(cx0+9,top+18,cx0+51,top+18).attr("stroke-width",2.5);
  }
});
</script>
</body></html>
